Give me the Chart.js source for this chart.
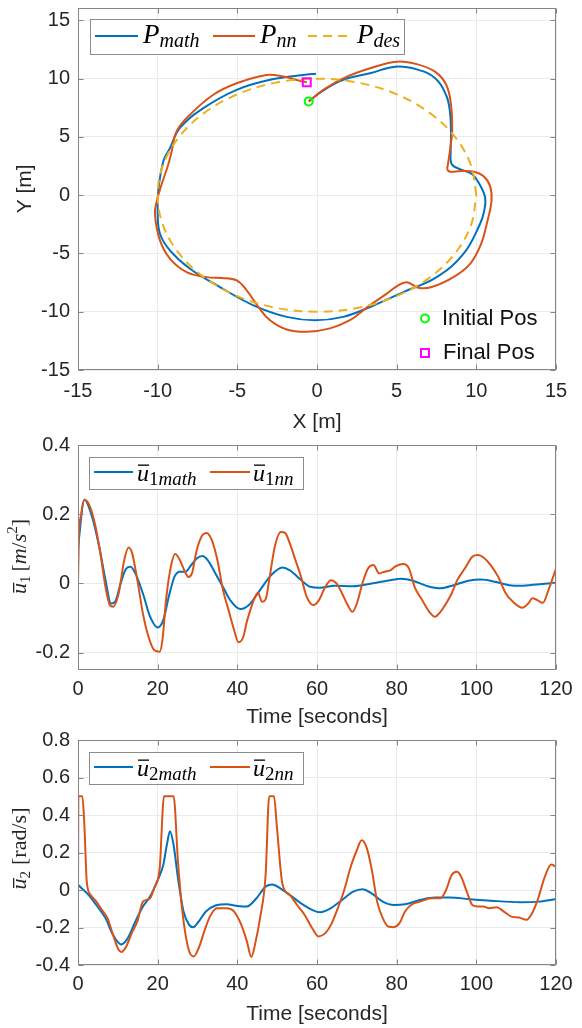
<!DOCTYPE html>
<html><head><meta charset="utf-8">
<script src="https://cdn.jsdelivr.net/npm/chart.js@4"></script>
<style>
html,body{margin:0;padding:0;background:#fff;}
#wrap{position:relative;width:582px;height:1028px;overflow:hidden;}
canvas{position:absolute;left:0;}
</style></head><body>
<div id="wrap">
<canvas id="c1" width="582" height="440" style="top:0"></canvas>
<canvas id="c2" width="582" height="305" style="top:425px"></canvas>
<canvas id="c3" width="582" height="313" style="top:715px"></canvas>
</div>
<script>
// ---------- data ----------
const posTicks = [-15, -10, -5, 0, 5, 10, 15];
const timeTicks = [0, 20, 40, 60, 80, 100, 120];
const u1Ticks = [-0.2, 0, 0.2, 0.4];
const u2Ticks = [-0.4, -0.2, 0, 0.2, 0.4, 0.6, 0.8];

const pMathX = [-0.52, 0.4, 1.65, 3.33, 4.9, 6.26, 7.4, 8.1, 8.34, 8.41, 8.39, 8.46, 9.04, 9.74, 10.2, 10.55, 10.5, 10.23, 9.19, 7.51, 5.42, 3.33, 1.65, -0.12, -1.9, -3.99, -6.09, -7.97, -9.22, -9.85, -10.0, -9.96, -9.64, -9.22, -8.6, -7.13, -5.04, -2.95, -0.86, -0.06];
const pMathY = [8.05, 9.0, 9.9, 10.46, 11.03, 10.8, 10.06, 8.6, 7.2, 5.2, 3.8, 2.65, 2.2, 1.8, 0.94, -0.2, -1.3, -2.47, -5.04, -7.03, -8.31, -9.59, -10.44, -10.73, -10.44, -9.45, -7.88, -6.31, -4.75, -3.33, -1.6, 0.37, 2.93, 4.06, 5.77, 7.47, 9.04, 9.9, 10.32, 10.43];

const pNnX = [-0.52, 0.4, 1.65, 3.33, 5.0, 6.26, 7.4, 8.1, 8.41, 8.48, 8.34, 8.22, 8.18, 8.34, 9.04, 9.86, 10.44, 10.86, 10.95, 10.65, 10.3, 9.61, 8.56, 7.2, 6.36, 5.63, 5.0, 4.38, 3.33, 2.91, 2.07, 0.82, -0.64, -1.9, -2.95, -3.68, -4.41, -5.04, -6.0, -6.92, -8.18, -9.22, -9.85, -10.17, -10.02, -9.75, -9.33, -9.12, -8.81, -7.97, -6.51, -5.04, -3.16, -2.11, -1.07, -0.64];
const pNnY = [8.05, 9.04, 10.03, 10.89, 11.46, 11.25, 10.6, 9.5, 7.78, 5.5, 3.8, 2.65, 2.22, 2.02, 2.08, 2.02, 1.65, 0.8, -0.49, -2.47, -4.18, -5.89, -7.03, -7.88, -7.94, -7.46, -7.82, -8.45, -9.43, -9.87, -10.73, -11.43, -11.72, -11.52, -10.73, -9.59, -8.17, -7.31, -7.1, -7.03, -6.6, -5.46, -3.9, -1.62, -0.3, 0.94, 2.65, 3.78, 5.49, 6.91, 8.62, 9.61, 10.32, 10.18, 9.81, 9.69];

const pDesX = [10, 9.66, 8.66, 7.07, 5, 2.59, 0, -2.59, -5, -7.07, -8.66, -9.66, -10, -9.66, -8.66, -7.07, -5, -2.59, 0, 2.59, 5, 7.07, 8.66, 9.66, 10];
const pDesY = [0, 2.59, 5, 7.07, 8.66, 9.66, 10, 9.66, 8.66, 7.07, 5, 2.59, 0, -2.59, -5, -7.07, -8.66, -9.66, -10, -9.66, -8.66, -7.07, -5, -2.59, 0];

const initPos = [-0.52, 8.05];
const finalPos = [-0.64, 9.69];

const u1MathT = [0, 1.6, 3.6, 5.5, 6.9, 8.3, 9.3, 10.7, 12.1, 13.2, 14.4, 16.3, 18.1, 20, 21.4, 22.8, 24.2, 25.6, 27, 28.4, 29.8, 31.2, 32.6, 34.5, 36.4, 38.2, 40.8, 42.9, 45.7, 48.5, 51.3, 53.2, 56, 58.3, 60.7, 64.4, 69.1, 73.7, 78.4, 81.2, 84, 87.8, 91, 94.3, 98, 101.3, 104.6, 108.3, 111.1, 115.8, 120];
const u1Math = [0.106, 0.242, 0.19, 0.096, 0.01, -0.058, -0.053, 0, 0.043, 0.048, 0.029, -0.029, -0.096, -0.127, -0.106, -0.038, 0.019, 0.034, 0.034, 0.053, 0.072, 0.079, 0.067, 0.029, -0.01, -0.048, -0.074, -0.0625, -0.019, 0.024, 0.046, 0.038, 0.01, -0.0096, -0.0125, -0.0067, -0.008, 0, 0.0096, 0.0135, 0.008, -0.008, -0.014, -0.005, 0.008, 0.0115, 0.005, -0.005, -0.0067, -0.002, 0.002];

const u1NnT = [0, 0.2, 0.8, 1.6, 2.7, 4.1, 5.5, 6.9, 8, 8.8, 10.2, 11.6, 12.7, 13.6, 14.9, 16.3, 17.7, 19.1, 20.5, 21.2, 22.1, 23.3, 24.4, 25.6, 26.7, 27.7, 28.6, 29.8, 31.2, 32.3, 33.6, 35, 36.4, 37.8, 39.2, 40.3, 41.5, 42.4, 43.4, 44.3, 45.2, 46.2, 47.1, 48, 49.4, 50.9, 52, 53.2, 54.6, 56, 57.4, 59.1, 60.5, 62.1, 63.5, 64.9, 66.3, 67.7, 68.9, 70, 71.4, 72.8, 74.2, 75.6, 77, 78.4, 79.8, 81.7, 83.1, 84.5, 86.4, 88.2, 89.6, 91, 92.4, 93.8, 95.2, 97.1, 99, 100.4, 101.8, 103.6, 105.5, 107.4, 109.2, 111.6, 113, 114.1, 115.3, 116.7, 118.1, 120];
const u1Nn = [0, 0.125, 0.2, 0.242, 0.23, 0.18, 0.096, -0.01, -0.0625, -0.067, -0.029, 0.067, 0.104, 0.087, 0.0096, -0.087, -0.154, -0.192, -0.197, -0.163, -0.048, 0.048, 0.085, 0.067, 0.038, 0.019, 0.029, 0.096, 0.139, 0.146, 0.125, 0.067, -0.019, -0.077, -0.135, -0.17, -0.154, -0.11, -0.072, -0.043, -0.027, -0.053, -0.046, 0.0096, 0.106, 0.149, 0.146, 0.115, 0.067, 0.019, -0.038, -0.0625, -0.048, -0.0096, 0.0096, 0, -0.029, -0.0625, -0.082, -0.058, 0, 0.043, 0.053, 0.029, 0.034, 0.038, 0.05, 0.056, 0.043, -0.0096, -0.048, -0.082, -0.096, -0.082, -0.058, -0.029, 0.0096, 0.043, 0.077, 0.082, 0.075, 0.053, 0.019, -0.029, -0.053, -0.07, -0.058, -0.043, -0.048, -0.056, -0.019, 0.043];

const u2MathT = [0, 0.4, 2.7, 4.6, 6.9, 8.8, 10.8, 12.5, 14.4, 16.3, 18.1, 20, 21.4, 22.3, 23.1, 24, 25.1, 26.5, 27.9, 28.9, 30.3, 32.1, 34.5, 37.3, 40.1, 42.4, 44.8, 47.1, 48.8, 50.8, 53.2, 56, 58.8, 60.8, 63.5, 66.3, 69.1, 71.4, 73.7, 76.5, 79.3, 82.1, 85.9, 89.6, 93.4, 98, 103.6, 111.1, 115.8, 120];
const u2Math = [0.03, 0.02, -0.027, -0.08, -0.15, -0.24, -0.29, -0.257, -0.168, -0.088, -0.035, 0.053, 0.133, 0.24, 0.313, 0.24, 0.062, -0.115, -0.186, -0.198, -0.168, -0.115, -0.083, -0.076, -0.085, -0.088, -0.044, 0.018, 0.03, 0.009, -0.027, -0.071, -0.106, -0.119, -0.097, -0.053, -0.009, 0.004, -0.018, -0.062, -0.08, -0.076, -0.053, -0.04, -0.04, -0.048, -0.057, -0.065, -0.062, -0.048];

const u2NnT = [0, 0.1, 1.1, 1.6, 2.2, 3.2, 4.6, 6, 7.4, 8.8, 10.2, 10.9, 12.1, 13.5, 14.9, 16.3, 17.2, 18.1, 19.1, 20.5, 21.6, 24, 25.1, 26.3, 27.9, 29.1, 30.3, 31.7, 33.1, 34.9, 37.3, 39.2, 41, 42.4, 43.5, 44.6, 45.7, 47.1, 48, 49.2, 49.9, 51.3, 53.2, 55, 56.9, 58.8, 60.4, 62.1, 63.5, 64.9, 66.7, 68.6, 70, 71.2, 72.4, 73.7, 75.1, 76.5, 77.9, 79.3, 80.7, 82.1, 83.6, 85.9, 88.7, 91, 92.4, 93.8, 95.1, 96.2, 97.6, 99, 100.4, 101.8, 103.2, 105.1, 106.9, 108.8, 110.7, 112.6, 114, 115.4, 117.2, 118.8, 120];
const u2Nn = [0, 0.5, 0.5, 0.345, 0.044, -0.027, -0.062, -0.106, -0.15, -0.24, -0.319, -0.331, -0.301, -0.23, -0.168, -0.062, -0.053, -0.044, 0.009, 0.115, 0.5, 0.5, 0.15, -0.133, -0.327, -0.354, -0.31, -0.221, -0.142, -0.097, -0.097, -0.115, -0.186, -0.274, -0.357, -0.274, -0.15, 0.08, 0.5, 0.5, 0.345, 0.035, -0.027, -0.08, -0.133, -0.204, -0.248, -0.23, -0.186, -0.115, -0.009, 0.133, 0.212, 0.265, 0.23, 0.115, -0.062, -0.15, -0.195, -0.198, -0.177, -0.115, -0.08, -0.062, -0.044, -0.044, 0, 0.08, 0.097, 0.071, -0.009, -0.08, -0.088, -0.088, -0.097, -0.092, -0.115, -0.142, -0.147, -0.159, -0.124, -0.053, 0.071, 0.136, 0.124];

// ---------- styling ----------
const BLUE = '#0072BD', RED = '#D95319', YEL = '#EDB120';
const GRID = '#ebebeb', AX = '#858585', TXT = '#262626';
const SANS = '"Liberation Sans", Arial, sans-serif';
const SERIF = '"Liberation Serif", "Times New Roman", serif';

const pts = (xs, ys) => xs.map((x, i) => ({x: x, y: ys[i]}));

function boxAndTicks(chart) {
  const {ctx, chartArea: a, scales} = chart;
  ctx.save();
  ctx.strokeStyle = AX; ctx.lineWidth = 1;
  const L = Math.round(a.left) + 0.5, R = Math.round(a.right) - 0.5;
  const T = Math.round(a.top) + 0.5, B = Math.round(a.bottom) - 0.5;
  ctx.beginPath();
  scales.x.ticks.forEach(t => {
    const x = Math.round(scales.x.getPixelForValue(t.value)) + 0.5;
    ctx.moveTo(x, B); ctx.lineTo(x, B - 5);
    ctx.moveTo(x, T); ctx.lineTo(x, T + 5);
  });
  scales.y.ticks.forEach(t => {
    const y = Math.round(scales.y.getPixelForValue(t.value)) + 0.5;
    ctx.moveTo(L, y); ctx.lineTo(L + 5, y);
    ctx.moveTo(R, y); ctx.lineTo(R - 5, y);
  });
  ctx.stroke();
  ctx.strokeRect(L, T, R - L, B - T);
  ctx.restore();
}

function sample(ctx, x0, x1, y, color, dash) {
  ctx.save();
  ctx.strokeStyle = color; ctx.lineWidth = 2; ctx.setLineDash(dash || []);
  ctx.beginPath(); ctx.moveTo(x0, y); ctx.lineTo(x1, y); ctx.stroke();
  ctx.restore();
}

function legBox(ctx, x, y, w, h) {
  ctx.save();
  ctx.fillStyle = '#fff'; ctx.fillRect(x, y, w, h);
  ctx.strokeStyle = '#8c8c8c'; ctx.lineWidth = 1;
  ctx.strokeRect(Math.round(x) + 0.5, Math.round(y) + 0.5, Math.round(w), Math.round(h));
  ctx.restore();
}

// parts: {t, f, dy, sp, bar:[dx, dy, dw]}
function rich(ctx, parts, x, y) {
  let cx = x;
  parts.forEach(p => {
    ctx.font = p.f;
    const w = ctx.measureText(p.t).width;
    ctx.fillText(p.t, cx, y + (p.dy || 0));
    if (p.bar) ctx.fillRect(cx + p.bar[0], y + p.bar[1], w + p.bar[2], 1.3);
    cx += w + (p.sp || 0);
  });
  return cx;
}
function richWidth(ctx, parts) {
  let w = 0;
  parts.forEach(p => { ctx.font = p.f; w += ctx.measureText(p.t).width + (p.sp || 0); });
  return w;
}

function drawYLabel(ctx, cx, cy, parts) {
  ctx.save();
  ctx.translate(cx, cy); ctx.rotate(-Math.PI / 2);
  ctx.fillStyle = TXT; ctx.textBaseline = 'alphabetic'; ctx.textAlign = 'left';
  const w = richWidth(ctx, parts);
  rich(ctx, parts, -w / 2, 5);
  ctx.restore();
}

function legend1(chart) {
  const ctx = chart.ctx;
  legBox(ctx, 90, 19, 314, 35);
  sample(ctx, 95, 138, 36, BLUE);
  sample(ctx, 213, 255, 36, RED);
  sample(ctx, 308, 353, 36, YEL, [9, 6]);
  ctx.save();
  ctx.fillStyle = '#000'; ctx.textBaseline = 'alphabetic'; ctx.textAlign = 'left';
  const P = 'italic 27px ' + SERIF, S = 'italic 20px ' + SERIF;
  rich(ctx, [{t: 'P', f: P}, {t: 'math', f: S, dy: 4}], 143, 43);
  rich(ctx, [{t: 'P', f: P}, {t: 'nn', f: S, dy: 4}], 260, 43);
  rich(ctx, [{t: 'P', f: P}, {t: 'des', f: S, dy: 4}], 357, 43);
  // marker legend
  ctx.strokeStyle = '#00ff00'; ctx.lineWidth = 2;
  ctx.beginPath(); ctx.arc(425, 318.5, 4, 0, Math.PI * 2); ctx.stroke();
  ctx.strokeStyle = '#ff00ff';
  ctx.strokeRect(421, 349, 8, 8);
  ctx.fillStyle = '#111'; ctx.font = '22px ' + SANS; ctx.textBaseline = 'middle';
  ctx.fillText('Initial Pos', 442, 319);
  ctx.fillText('Final Pos', 443, 353);
  ctx.restore();
}

function legendU(chart, idx) {
  const ctx = chart.ctx, top = chart.chartArea.top;
  legBox(ctx, 89, top + 12, 214, 32);
  sample(ctx, 94, 133, top + 27, BLUE);
  sample(ctx, 210, 250, top + 27, RED);
  ctx.save();
  ctx.fillStyle = '#000'; ctx.textBaseline = 'alphabetic'; ctx.textAlign = 'left';
  const U = 'italic 24px ' + SERIF, N = '19px ' + SERIF, S = 'italic 19px ' + SERIF;
  rich(ctx, [{t: 'u', f: U, bar: [1, -16.5, -1]}, {t: idx, f: N, dy: 4}, {t: 'math', f: S, dy: 4}], 137, top + 36);
  rich(ctx, [{t: 'u', f: U, bar: [1, -16.5, -1]}, {t: idx, f: N, dy: 4}, {t: 'nn', f: S, dy: 4}], 253, top + 36);
  ctx.restore();
}

function scaleOpts(min, max, ticks, o) {
  const s = {
    type: 'linear', min: min, max: max,
    afterBuildTicks: sc => { sc.ticks = ticks.map(v => ({value: v})); },
    grid: {color: GRID, lineWidth: 1, drawTicks: false},
    border: {display: false},
    ticks: {color: TXT, font: {family: SANS, size: 20}, padding: o.pad, autoSkip: false, maxRotation: 0,
            callback: v => String(v)},
    afterFit: sc => {
      if (o.width !== undefined) { sc.width = o.width; sc.paddingTop = 0; sc.paddingBottom = 0; }
      if (o.height !== undefined) { sc.height = o.height; sc.paddingLeft = 0; sc.paddingRight = 0; }
    }
  };
  if (o.title) s.title = {display: true, text: o.title, color: TXT, font: {family: SANS, size: 21},
                          padding: o.titlePad};
  return s;
}

function baseOptions(topPad, xs, ys) {
  return {
    responsive: false, animation: false, events: [],
    layout: {padding: {top: topPad, right: 26, left: 0, bottom: 0}},
    plugins: {legend: {display: false}, tooltip: {enabled: false}},
    scales: {x: xs, y: ys}
  };
}

// ---------- chart 1 ----------
new Chart(document.getElementById('c1'), {
  type: 'scatter',
  data: {datasets: [
    {data: pts(pMathX, pMathY), showLine: true, borderColor: BLUE, borderWidth: 2, pointRadius: 0, tension: 0.4, order: 4},
    {data: pts(pNnX, pNnY), showLine: true, borderColor: RED, borderWidth: 2, pointRadius: 0, tension: 0.4, order: 3},
    {data: pts(pDesX, pDesY), showLine: true, borderColor: YEL, borderWidth: 2, borderDash: [9, 6], pointRadius: 0, tension: 0.35, order: 2},
    {data: [{x: initPos[0], y: initPos[1]}], showLine: false, pointStyle: 'circle', pointRadius: 4, pointBorderWidth: 2,
     pointBorderColor: '#00ff00', pointBackgroundColor: 'rgba(0,0,0,0)', order: 1},
    {data: [{x: finalPos[0], y: finalPos[1]}], showLine: false, pointStyle: 'rect', pointRadius: 5.6, pointBorderWidth: 2,
     pointBorderColor: '#ff00ff', pointBackgroundColor: 'rgba(0,0,0,0)', order: 0}
  ]},
  options: baseOptions(6,
    scaleOpts(-15, 15, posTicks, {pad: 9, height: 70, title: 'X [m]', titlePad: {top: 0, bottom: 5}}),
    scaleOpts(-15, 16.1, posTicks, {pad: 8, width: 78, title: 'Y [m]', titlePad: {top: 13, bottom: 0}})),
  plugins: [{id: 'deco1', afterDraw: c => { boxAndTicks(c); legend1(c); }}]
});

// ---------- chart 2 ----------
new Chart(document.getElementById('c2'), {
  type: 'line',
  data: {datasets: [
    {data: pts(u1MathT, u1Math), borderColor: BLUE, borderWidth: 2, pointRadius: 0, tension: 0.4, cubicInterpolationMode: 'monotone', order: 2},
    {data: pts(u1NnT, u1Nn), borderColor: RED, borderWidth: 2, pointRadius: 0, tension: 0.4, cubicInterpolationMode: 'monotone', order: 1}
  ]},
  options: baseOptions(20,
    scaleOpts(0, 120, timeTicks, {pad: 7, height: 60, title: 'Time [seconds]', titlePad: {top: 0, bottom: 0}}),
    scaleOpts(-0.25, 0.4, u1Ticks, {pad: 8, width: 78})),
  plugins: [{id: 'deco2', afterDraw: c => {
    boxAndTicks(c); legendU(c, '1');
    const a = c.chartArea;
    drawYLabel(c.ctx, 21, (a.top + a.bottom) / 2 - 1, [
      {t: 'u', f: 'italic 22px ' + SERIF, bar: [1.5, -13, -1]},
      {t: '1', f: '15px ' + SERIF, dy: 3.5, sp: 4},
      {t: '[', f: '22px ' + SERIF},
      {t: 'm', f: 'italic 22px ' + SERIF},
      {t: '/', f: '22px ' + SERIF},
      {t: 's', f: 'italic 22px ' + SERIF},
      {t: '2', f: '15px ' + SERIF, dy: -9},
      {t: ']', f: '22px ' + SERIF}
    ]);
  }}]
});

// ---------- chart 3 ----------
new Chart(document.getElementById('c3'), {
  type: 'line',
  data: {datasets: [
    {data: pts(u2MathT, u2Math), borderColor: BLUE, borderWidth: 2, pointRadius: 0, tension: 0.4, cubicInterpolationMode: 'monotone', order: 2},
    {data: pts(u2NnT, u2Nn), borderColor: RED, borderWidth: 2, pointRadius: 0, tension: 0.4, cubicInterpolationMode: 'monotone', order: 1}
  ]},
  options: baseOptions(25,
    scaleOpts(0, 120, timeTicks, {pad: 7, height: 63, title: 'Time [seconds]', titlePad: {top: 0, bottom: 1.5}}),
    scaleOpts(-0.4, 0.8, u2Ticks, {pad: 8, width: 78})),
  plugins: [{id: 'deco3', afterDraw: c => {
    boxAndTicks(c); legendU(c, '2');
    const a = c.chartArea;
    drawYLabel(c.ctx, 21, (a.top + a.bottom) / 2 - 4, [
      {t: 'u', f: 'italic 22px ' + SERIF, bar: [1.5, -13, -1]},
      {t: '2', f: '15px ' + SERIF, dy: 3.5, sp: 6},
      {t: '[rad/s]', f: '22px ' + SERIF}
    ]);
  }}]
});
</script>
</body></html>
